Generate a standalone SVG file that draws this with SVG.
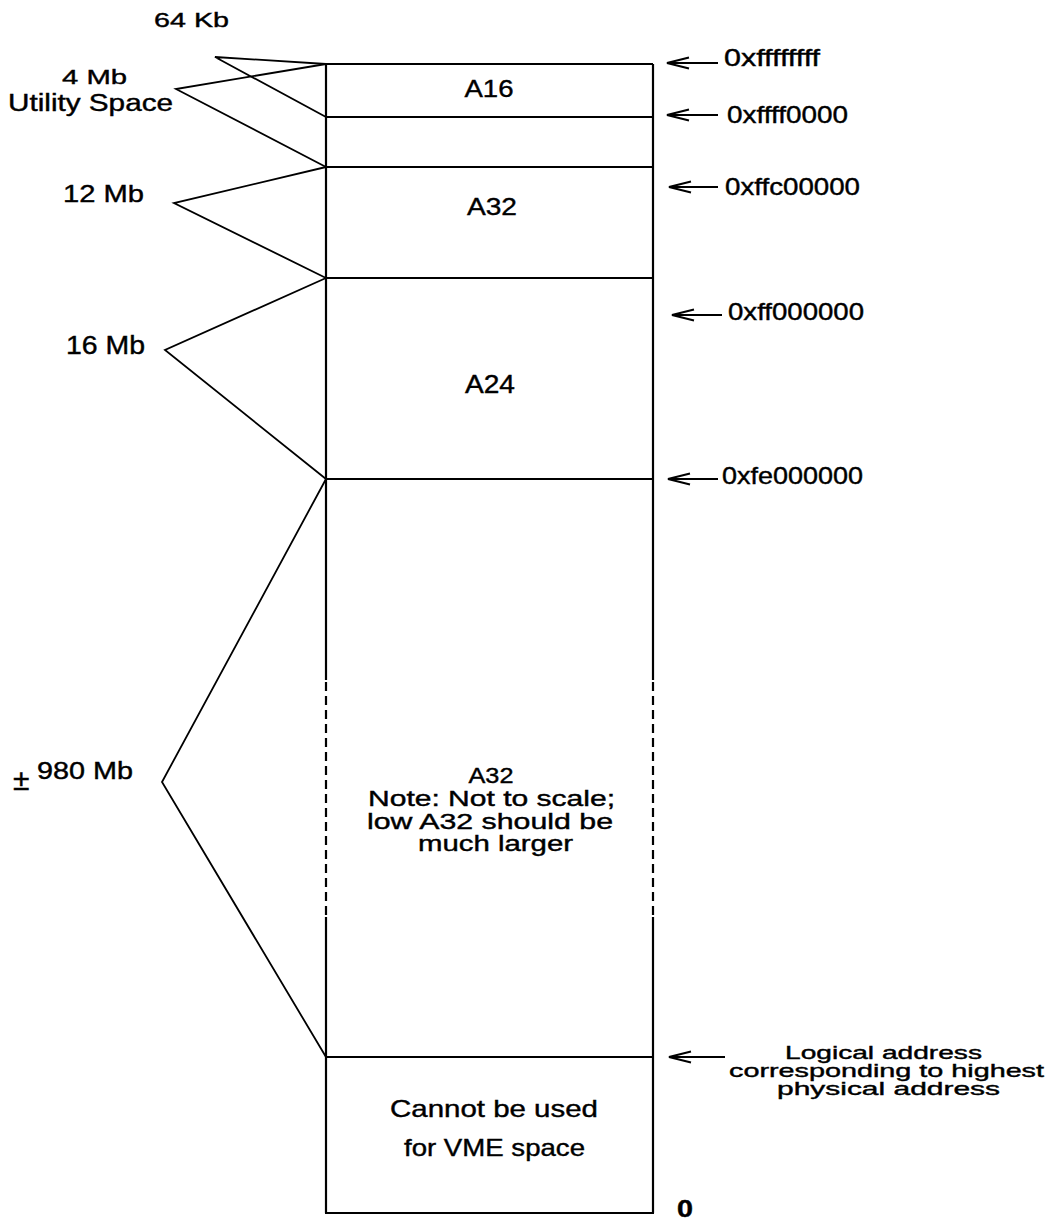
<svg xmlns="http://www.w3.org/2000/svg" width="1064" height="1220" viewBox="0 0 1064 1220">
<style>
  text { font-family: "Liberation Sans", Arial, sans-serif; fill: #000; stroke: #000; stroke-width: 0.4; }
  .mid { text-anchor: middle; }
  .box { stroke: #000; stroke-width: 2.2; fill: none; }
  .dash { stroke: #000; stroke-width: 2.2; fill: none; stroke-dasharray: 9 5; }
  .brk { stroke: #000; stroke-width: 1.8; fill: none; stroke-linejoin: miter; }
  .arr { stroke: #000; stroke-width: 2; fill: none; marker-end: url(#head); }
</style>
<defs>
  <marker id="head" markerUnits="userSpaceOnUse" markerWidth="26" markerHeight="14" refX="23" refY="7" orient="auto" viewBox="0 0 26 14">
    <path d="M1,1.5 L23,7 L1,12.5" stroke="#000" stroke-width="2" fill="none"/>
  </marker>
</defs>
<rect width="1064" height="1220" fill="#fff"/>

<g id="memory-map">
  <g id="seg-a16">
    <line class="box" x1="326" y1="64" x2="653" y2="64"/>
    <line class="box" x1="326" y1="64" x2="326" y2="117"/>
    <line class="box" x1="653" y1="64" x2="653" y2="117"/>
    <text class="mid" x="489" y="97" font-size="24" textLength="49" lengthAdjust="spacingAndGlyphs">A16</text>
  </g>
  <g id="seg-utility">
    <line class="box" x1="326" y1="117" x2="653" y2="117"/>
    <line class="box" x1="326" y1="117" x2="326" y2="167"/>
    <line class="box" x1="653" y1="117" x2="653" y2="167"/>
  </g>
  <g id="seg-a32-high">
    <line class="box" x1="326" y1="167" x2="653" y2="167"/>
    <line class="box" x1="326" y1="167" x2="326" y2="278"/>
    <line class="box" x1="653" y1="167" x2="653" y2="278"/>
    <text class="mid" x="492" y="215" font-size="24" textLength="50" lengthAdjust="spacingAndGlyphs">A32</text>
  </g>
  <g id="seg-a24">
    <line class="box" x1="326" y1="278" x2="653" y2="278"/>
    <line class="box" x1="326" y1="278" x2="326" y2="479"/>
    <line class="box" x1="653" y1="278" x2="653" y2="479"/>
    <text class="mid" x="490" y="393" font-size="25" textLength="50" lengthAdjust="spacingAndGlyphs">A24</text>
  </g>
  <g id="seg-a32-low">
    <line class="box" x1="326" y1="479" x2="653" y2="479"/>
    <line class="box" x1="326" y1="479" x2="326" y2="680"/>
    <line class="box" x1="653" y1="479" x2="653" y2="680"/>
    <line class="dash" x1="326" y1="682" x2="326" y2="917"/>
    <line class="dash" x1="653" y1="682" x2="653" y2="917"/>
    <line class="box" x1="326" y1="917" x2="326" y2="1057"/>
    <line class="box" x1="653" y1="917" x2="653" y2="1057"/>
    <text class="mid" x="491" y="783" font-size="22" textLength="45" lengthAdjust="spacingAndGlyphs">A32</text>
    <text class="mid" x="491.5" y="806" font-size="22" textLength="247" lengthAdjust="spacingAndGlyphs">Note: Not to scale;</text>
    <text class="mid" x="490" y="829" font-size="22" textLength="246" lengthAdjust="spacingAndGlyphs">low A32 should be</text>
    <text class="mid" x="495.5" y="851" font-size="22" textLength="155" lengthAdjust="spacingAndGlyphs">much larger</text>
  </g>
  <g id="seg-reserved">
    <line class="box" x1="326" y1="1057" x2="653" y2="1057"/>
    <line class="box" x1="326" y1="1057" x2="326" y2="1213"/>
    <line class="box" x1="653" y1="1057" x2="653" y2="1213"/>
    <line class="box" x1="325" y1="1213" x2="654" y2="1213"/>
    <text class="mid" x="494" y="1117" font-size="24" textLength="208" lengthAdjust="spacingAndGlyphs">Cannot be used</text>
    <text class="mid" x="494.5" y="1156" font-size="24" textLength="181" lengthAdjust="spacingAndGlyphs">for VME space</text>
  </g>
</g>

<g id="size-labels">
  <g id="lbl-64kb">
    <text x="154" y="27" font-size="21" textLength="75" lengthAdjust="spacingAndGlyphs">64 Kb</text>
  </g>
  <g id="lbl-4mb">
    <text x="62" y="84" font-size="21" textLength="65" lengthAdjust="spacingAndGlyphs">4 Mb</text>
    <text x="8" y="111" font-size="23" textLength="165" lengthAdjust="spacingAndGlyphs">Utility Space</text>
  </g>
  <g id="lbl-12mb">
    <text x="63" y="202" font-size="24" textLength="81" lengthAdjust="spacingAndGlyphs">12 Mb</text>
  </g>
  <g id="lbl-16mb">
    <text x="66" y="354" font-size="25" textLength="79" lengthAdjust="spacingAndGlyphs">16 Mb</text>
  </g>
  <g id="lbl-980mb">
    <text x="13" y="790" font-size="30">±</text>
    <text x="37" y="779" font-size="23" textLength="96" lengthAdjust="spacingAndGlyphs">980 Mb</text>
  </g>
</g>

<g id="address-labels">
  <g id="addr-ffffffff"><text x="724" y="66" font-size="24" textLength="96" lengthAdjust="spacingAndGlyphs">0xffffffff</text></g>
  <g id="addr-ffff0000"><text x="727" y="123" font-size="24" textLength="121" lengthAdjust="spacingAndGlyphs">0xffff0000</text></g>
  <g id="addr-ffc00000"><text x="725" y="195" font-size="24" textLength="135" lengthAdjust="spacingAndGlyphs">0xffc00000</text></g>
  <g id="addr-ff000000"><text x="728" y="320" font-size="24" textLength="136" lengthAdjust="spacingAndGlyphs">0xff000000</text></g>
  <g id="addr-fe000000"><text x="722" y="484" font-size="24" textLength="141" lengthAdjust="spacingAndGlyphs">0xfe000000</text></g>
  <g id="addr-logical">
    <text class="mid" x="883.5" y="1059" font-size="18.5" textLength="197" lengthAdjust="spacingAndGlyphs">Logical address</text>
    <text class="mid" x="886.5" y="1077" font-size="18.5" textLength="315" lengthAdjust="spacingAndGlyphs">corresponding to highest</text>
    <text class="mid" x="888.5" y="1095" font-size="18.5" textLength="223" lengthAdjust="spacingAndGlyphs">physical address</text>
  </g>
  <g id="addr-zero"><text x="677" y="1217" font-size="23" font-weight="bold" textLength="16" lengthAdjust="spacingAndGlyphs">0</text></g>
</g>

<g id="connectors">
  <polyline class="brk" points="326,64 215,57 326,117"/>
  <polyline class="brk" points="326,64 176,89 326,167"/>
  <polyline class="brk" points="326,167 174,203 326,278"/>
  <polyline class="brk" points="326,278 165,350 326,479"/>
  <polyline class="brk" points="326,479 162,782 326,1057"/>
  <line class="arr" x1="718" y1="63" x2="667" y2="63"/>
  <line class="arr" x1="718" y1="115" x2="667" y2="115"/>
  <line class="arr" x1="718" y1="187" x2="669" y2="187"/>
  <line class="arr" x1="722" y1="315" x2="672" y2="315"/>
  <line class="arr" x1="718" y1="479" x2="668" y2="479"/>
  <line class="arr" x1="725" y1="1057" x2="669" y2="1057"/>
</g>
</svg>
